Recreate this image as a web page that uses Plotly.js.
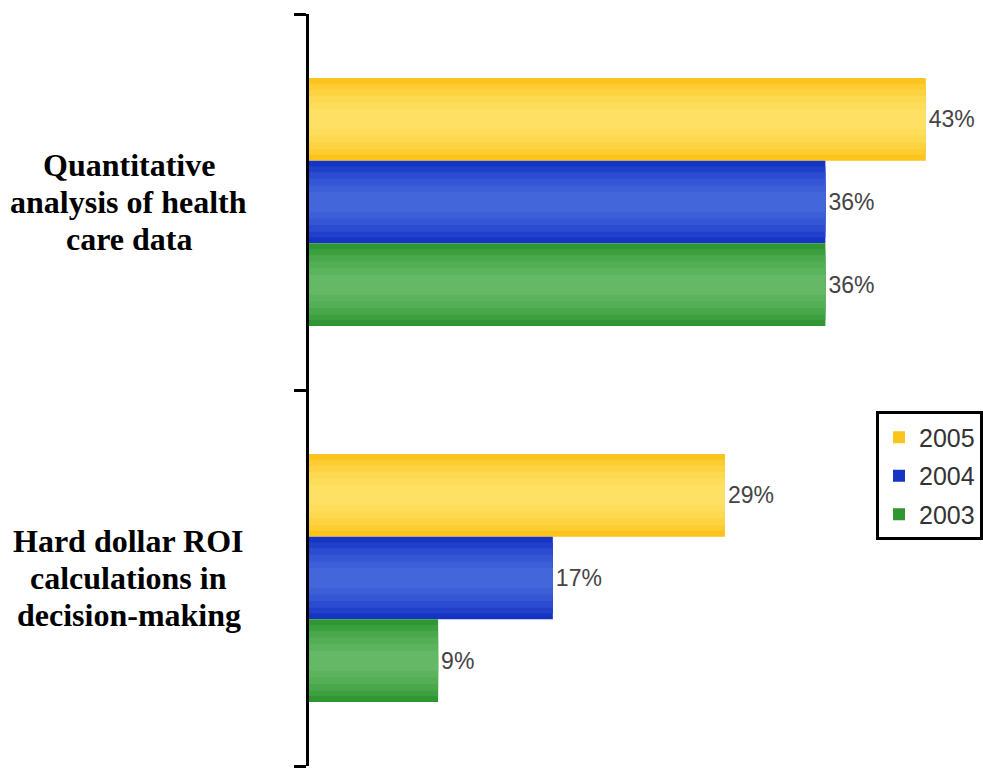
<!DOCTYPE html>
<html>
<head>
<meta charset="utf-8">
<script src="https://cdn.plot.ly/plotly-3.0.1.min.js"></script>
<style>
  html, body { margin: 0; padding: 0; background: #ffffff; }
  #chart { width: 983px; height: 770px; }
</style>
</head>
<body>
<div id="chart"></div>
<script>
// Survey categories (top to bottom) and the share reported for each year
const categories = [
  "Quantitative analysis of health care data",
  "Hard dollar ROI calculations in decision-making"
];
const categoryLines = [
  ["Quantitative", "analysis of health", "care data"],
  ["Hard dollar ROI", "calculations in", "decision-making"]
];
const years = ["2005", "2004", "2003"];
const values2005 = [43, 29];
const values2004 = [36, 17];
const values2003 = [36, 9];

const seriesValues = [values2005, values2004, values2003];

// Each category occupies one unit slot on a numeric y axis
const slotIndex = categories.map((_, i) => i);
const slotEdges = [];
for (let e = 0; e <= categories.length; e++) slotEdges.push(e - 0.5);

// Shades per series, from the bar edge towards its lit centre line
const seriesShades = [
  ["#FBC41C", "#FCCC30", "#FDD342", "#FDD94F", "#FEDD5A", "#FEE064"],
  ["#1634C4", "#2040CA", "#2B4BD0", "#3556D5", "#3D5FD8", "#4466DB"],
  ["#2F9632", "#3DA03F", "#4AA84C", "#54AE56", "#5CB35E", "#64B866"]
];
const layerFractions = [1, 0.86, 0.72, 0.56, 0.4, 0.24];

// Bars are placed by hand inside each category slot so the
// shaded layers can be stacked on top of one another.
const groupWidth = 0.66;
const barWidth = groupWidth / years.length;

const traces = [];
years.forEach((yr, i) => {
  layerFractions.forEach((f, k) => {
    const w = barWidth * f;
    const off = -groupWidth / 2 + barWidth * i + (barWidth - w) / 2;
    const t = {
      type: "bar",
      orientation: "h",
      name: yr,
      legendgroup: yr,
      showlegend: k === 0,
      y: slotIndex,
      x: seriesValues[i],
      customdata: categories,
      width: w,
      offset: off,
      marker: { color: seriesShades[i][k], line: { width: 0 } },
      hoverinfo: "skip"
    };
    if (k === 0) {
      t.text = seriesValues[i].map(v => v + "%");
      t.textposition = "outside";
      t.cliponaxis = false;
      t.textfont = { family: '"Liberation Sans", Arial, sans-serif', size: 23, color: "#444444" };
    } else {
      t.textposition = "none";
    }
    traces.push(t);
  });
});

// Category labels, one annotation per line, centred left of the axis
const lineGap = 37;
const annotations = [];
categoryLines.forEach((lines, c) => {
  const mid = (lines.length - 1) / 2;
  lines.forEach((txt, k) => {
    annotations.push({
      xref: "paper", yref: "y",
      x: -0.2686, y: slotIndex[c],
      yshift: (mid - k) * lineGap,
      text: txt,
      showarrow: false,
      xanchor: "center", yanchor: "middle",
      font: { family: '"Liberation Serif", "Times New Roman", serif', size: 32, color: "#000000", weight: "bold" }
    });
  });
});

const layout = {
  width: 983,
  height: 770,
  margin: { l: 309, r: 0, t: 14, b: 4 },
  paper_bgcolor: "#ffffff",
  plot_bgcolor: "#ffffff",
  barmode: "overlay",
  showlegend: true,
  legend: {
    x: 0.844, y: 0.4715, xanchor: "left", yanchor: "top",
    bordercolor: "#000000", borderwidth: 3,
    bgcolor: "#ffffff",
    traceorder: "grouped",
    tracegroupgap: 3,
    font: { family: '"Liberation Sans", Arial, sans-serif', size: 25, color: "#333333" }
  },
  xaxis: {
    range: [0, 46.85],
    showgrid: false, zeroline: false, showline: false,
    showticklabels: false, ticks: ""
  },
  yaxis: {
    type: "linear",
    range: [categories.length - 0.5, -0.5],
    tickmode: "array",
    tickvals: slotEdges,
    showgrid: false, zeroline: false,
    showline: true, linecolor: "#000000", linewidth: 3,
    ticks: "outside", ticklen: 12, tickwidth: 3, tickcolor: "#000000",
    showticklabels: false
  },
  annotations: annotations
};

Plotly.newPlot("chart", traces, layout, { displayModeBar: false, staticPlot: true });
</script>
</body>
</html>
